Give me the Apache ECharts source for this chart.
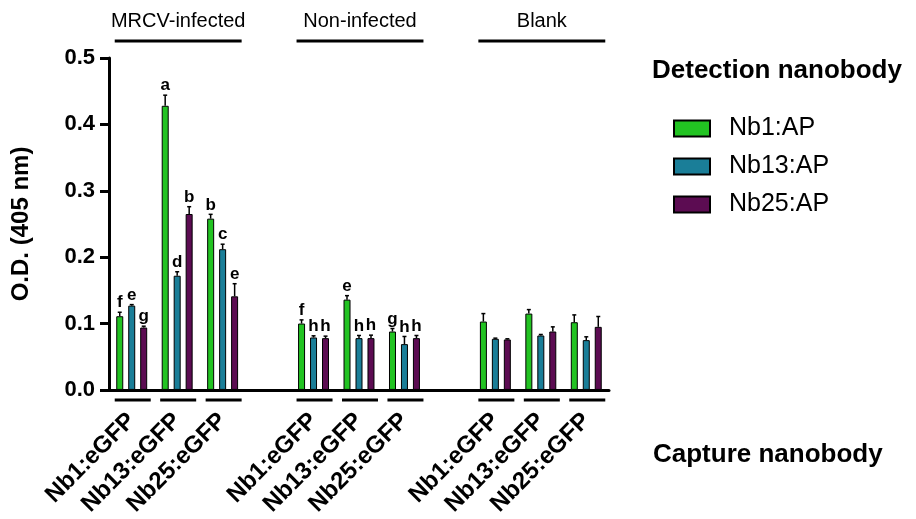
<!DOCTYPE html>
<html>
<head>
<meta charset="utf-8">
<script src="https://cdn.jsdelivr.net/npm/echarts@6/dist/echarts.min.js"></script>
<style>
  html, body { margin: 0; padding: 0; background: #fff; }
  #main { width: 916px; height: 519px; }
</style>
</head>
<body>
<div id="main"></div>
<script>
// capture nanobody per slot; '' = gap between sample groups
const categories = ['Nb1:eGFP', 'Nb13:eGFP', 'Nb25:eGFP', '', 'Nb1:eGFP', 'Nb13:eGFP', 'Nb25:eGFP', '', 'Nb1:eGFP', 'Nb13:eGFP', 'Nb25:eGFP'];
const seriesNames = ['Nb1:AP', 'Nb13:AP', 'Nb25:AP'];

// O.D. (405 nm) means
const nb1 = [0.111, 0.428, 0.258, null, 0.100, 0.136, 0.088, null, 0.103, 0.115, 0.102];
const nb13 = [0.127, 0.172, 0.212, null, 0.079, 0.078, 0.069, null, 0.077, 0.082, 0.075];
const nb25 = [0.094, 0.265, 0.141, null, 0.078, 0.078, 0.078, null, 0.076, 0.088, 0.095];

// error (upper whisker)
const nb1Err = [0.006, 0.016, 0.0065, null, 0.0055, 0.006, 0.0045, null, 0.012, 0.006, 0.011];
const nb13Err = [0.0015, 0.006, 0.0075, null, 0.0025, 0.004, 0.0115, null, 0.001, 0.0015, 0.005];
const nb25Err = [0.002, 0.011, 0.019, null, 0.003, 0.0045, 0.004, null, 0.001, 0.007, 0.0156];

// significance letters
const nb1Letters = ['f', 'a', 'b', '', 'f', 'e', 'g', '', '', '', ''];
const nb13Letters = ['e', 'd', 'c', '', 'h', 'h', 'h', '', '', '', ''];
const nb25Letters = ['g', 'b', 'e', '', 'h', 'h', 'h', '', '', '', ''];

// sample groups over the top
const groupNames = ['MRCV-infected', 'Non-infected', 'Blank'];
const groupStart = [0, 4, 8];
const groupEnd = [2, 6, 10];

const yTicks = [0, 0.1, 0.2, 0.3, 0.4, 0.5];

const colors = ['#22c322', '#1a7e98', '#5c0c52'];
const FONT = 'Arial, "Liberation Sans", sans-serif';

const means = [nb1, nb13, nb25];
const errs = [nb1Err, nb13Err, nb25Err];
const letters = [nb1Letters, nb13Letters, nb25Letters];

// error bar + letter items: [cat, mean, err, seriesIdx]
const errData = [];
const errLetters = [];
means.forEach((arr, s) => {
  arr.forEach((v, i) => {
    if (v == null) return;
    errData.push([i, v, errs[s][i], s]);
    errLetters.push(letters[s][i]);
  });
});

const underlineData = [];
categories.forEach((c, i) => { if (c) underlineData.push([i, 0]); });

const headerData = groupNames.map((n, i) => [groupStart[i], 0, groupEnd[i]]);

const chart = echarts.init(document.getElementById('main'));

const option = {
  animation: false,
  backgroundColor: '#fff',
  textStyle: { fontFamily: FONT },
  title: [
    {
      text: 'Detection nanobody', left: 652, top: 58, padding: 0,
      textStyle: { fontFamily: FONT, fontWeight: 'bold', fontSize: 26, color: '#000' }
    },
    {
      text: 'Capture nanobody', left: 653, top: 442, padding: 0,
      textStyle: { fontFamily: FONT, fontWeight: 'bold', fontSize: 26, color: '#000' }
    }
  ],
  legend: {
    data: seriesNames,
    orient: 'vertical',
    left: 673,
    top: 116,
    icon: 'rect',
    itemWidth: 36,
    itemHeight: 16,
    itemGap: 13,
    padding: 0,
    selectedMode: false,
    textStyle: { fontFamily: FONT, fontSize: 25, color: '#000', padding: [0, 0, 0, 14] }
  },
  grid: { left: 109, right: 307, top: 58, bottom: 128, containLabel: false },
  xAxis: {
    type: 'category',
    data: categories,
    axisLine: { lineStyle: { color: '#000', width: 3 } },
    axisTick: { show: false },
    axisLabel: {
      interval: 0, rotate: 45, margin: 27,
      fontFamily: FONT, fontWeight: 'bold', fontSize: 24, color: '#000'
    },
    splitLine: { show: false }
  },
  yAxis: {
    type: 'value',
    min: 0, max: 0.5, interval: 0.1,
    name: 'O.D. (405 nm)',
    nameLocation: 'middle',
    nameGap: 76,
    nameTextStyle: { fontFamily: FONT, fontWeight: 'bold', fontSize: 24, color: '#000' },
    axisLine: { show: true, lineStyle: { color: '#000', width: 3 } },
    axisTick: { show: true, length: 9, lineStyle: { color: '#000', width: 3 } },
    axisLabel: {
      margin: 14, fontFamily: FONT, fontWeight: 'bold', fontSize: 22, color: '#000',
      formatter: v => yTicks.includes(+v.toFixed(1)) ? v.toFixed(1) : ''
    },
    splitLine: { show: false }
  },
  series: [
    ...seriesNames.map((name, s) => ({
      name: name,
      type: 'bar',
      data: means[s],
      barWidth: 7,
      barGap: '71%',
      itemStyle: { color: colors[s], borderColor: '#000', borderWidth: 1 },
      z: 2
    })),
    {
      type: 'custom',
      name: 'err',
      data: errData,
      encode: { x: 0, y: 1 },
      z: 3,
      renderItem: function (params, api) {
        const cat = api.value(0), v = api.value(1), e = api.value(2), s = api.value(3);
        const base = api.coord([cat, v]);
        const up = api.coord([cat, v + e]);
        const x = base[0] + (s - 1) * 12;
        const children = [
          { type: 'line', shape: { x1: x, y1: base[1], x2: x, y2: up[1] }, style: { stroke: '#000', lineWidth: 1.5 } },
          { type: 'line', shape: { x1: x - 2, y1: up[1], x2: x + 2, y2: up[1] }, style: { stroke: '#000', lineWidth: 1.5 } }
        ];
        const t = errLetters[params.dataIndex];
        if (t) {
          children.push({
            type: 'text',
            style: {
              text: t, x: x, y: up[1] - 1, align: 'center', verticalAlign: 'bottom',
              font: 'bold 17px ' + FONT, fill: '#000'
            }
          });
        }
        return { type: 'group', children: children };
      }
    },
    {
      type: 'custom',
      name: 'underline',
      data: underlineData,
      encode: { x: 0, y: 1 },
      renderItem: function (params, api) {
        const p = api.coord([api.value(0), 0]);
        return {
          type: 'line',
          shape: { x1: p[0] - 17, y1: p[1] + 10, x2: p[0] + 19, y2: p[1] + 10 },
          style: { stroke: '#000', lineWidth: 3 }
        };
      }
    },
    {
      type: 'custom',
      name: 'groups',
      data: headerData,
      encode: { x: 0, y: 1 },
      renderItem: function (params, api) {
        const a = api.coord([api.value(0), 0.5]);
        const b = api.coord([api.value(2), 0.5]);
        const y = a[1] - 17;
        return {
          type: 'group',
          children: [
            { type: 'line', shape: { x1: a[0] - 17, y1: y, x2: b[0] + 19, y2: y }, style: { stroke: '#000', lineWidth: 3 } },
            {
              type: 'text',
              style: {
                text: groupNames[params.dataIndex], x: (a[0] + b[0]) / 2 + 1, y: y - 20,
                align: 'center', verticalAlign: 'middle', font: '20px ' + FONT, fill: '#000'
              }
            }
          ]
        };
      }
    }
  ]
};

chart.setOption(option);
</script>
</body>
</html>
